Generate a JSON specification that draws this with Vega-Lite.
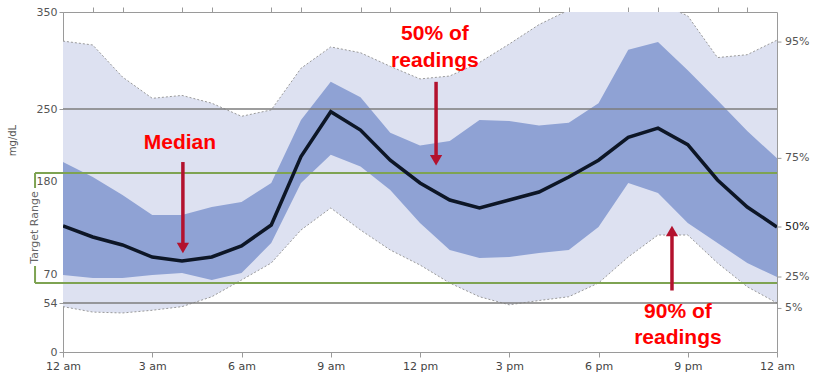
{
  "$schema": "https://vega.github.io/schema/vega-lite/v6.json",
  "width": 714,
  "height": 340,
  "autosize": {"type": "none"},
  "padding": {"left": 63, "top": 12, "right": 38, "bottom": 27},
  "background": "white",
  "config": {
    "view": {"stroke": "#9a9a9a", "strokeWidth": 1},
    "axis": {"domainColor": "#9a9a9a", "tickColor": "#9a9a9a", "grid": false}
  },
  "resolve": {"axis": {"x": "independent"}},
  "datasets": {
    "agp": [
      {"hour": 0, "p5": 50, "p25": 78, "p50": 127, "p75": 192, "p95": 320},
      {"hour": 1, "p5": 44, "p25": 75, "p50": 116, "p75": 176, "p95": 316},
      {"hour": 2, "p5": 43, "p25": 75, "p50": 108, "p75": 158, "p95": 283},
      {"hour": 3, "p5": 46, "p25": 78, "p50": 96, "p75": 138, "p95": 261},
      {"hour": 4, "p5": 50, "p25": 80, "p50": 92, "p75": 138, "p95": 264},
      {"hour": 5, "p5": 59, "p25": 73, "p50": 96, "p75": 146, "p95": 256},
      {"hour": 6, "p5": 73, "p25": 80, "p50": 107, "p75": 151, "p95": 242},
      {"hour": 7, "p5": 90, "p25": 110, "p50": 128, "p75": 170, "p95": 249},
      {"hour": 8, "p5": 123, "p25": 170, "p50": 198, "p75": 238, "p95": 292},
      {"hour": 9, "p5": 145, "p25": 200, "p50": 247, "p75": 278, "p95": 314},
      {"hour": 10, "p5": 123, "p25": 187, "p50": 227, "p75": 262, "p95": 308},
      {"hour": 11, "p5": 103, "p25": 163, "p50": 194, "p75": 224, "p95": 294},
      {"hour": 12, "p5": 88, "p25": 130, "p50": 170, "p75": 210, "p95": 281},
      {"hour": 13, "p5": 70, "p25": 103, "p50": 153, "p75": 215, "p95": 284},
      {"hour": 14, "p5": 59, "p25": 95, "p50": 145, "p75": 238, "p95": 298},
      {"hour": 15, "p5": 52, "p25": 96, "p50": 153, "p75": 237, "p95": 317},
      {"hour": 16, "p5": 56, "p25": 100, "p50": 161, "p75": 232, "p95": 337},
      {"hour": 17, "p5": 59, "p25": 103, "p50": 176, "p75": 235, "p95": 352},
      {"hour": 18, "p5": 70, "p25": 126, "p50": 194, "p75": 256, "p95": 362},
      {"hour": 19, "p5": 96, "p25": 170, "p50": 219, "p75": 311, "p95": 368},
      {"hour": 20, "p5": 118, "p25": 160, "p50": 229, "p75": 319, "p95": 360},
      {"hour": 21, "p5": 118, "p25": 130, "p50": 211, "p75": 290, "p95": 346},
      {"hour": 22, "p5": 90, "p25": 110, "p50": 173, "p75": 259, "p95": 303},
      {"hour": 23, "p5": 67, "p25": 90, "p50": 146, "p75": 226, "p95": 306},
      {"hour": 24, "p5": 54, "p25": 76, "p50": 126, "p75": 196, "p95": 321}
    ],
    "grayRefs": [{"v": 250}, {"v": 54}],
    "greenRefs": [{"v": 180}, {"v": 70}],
    "bracket": [{"a": 180, "b": 165}, {"a": 87, "b": 70}],
    "pctLabels": [
      {"label": "95%", "v": 319, "bold": 0},
      {"label": "75%", "v": 196, "bold": 0},
      {"label": "50%", "v": 126, "bold": 1},
      {"label": "25%", "v": 76, "bold": 0},
      {"label": "5%", "v": 48, "bold": 0}
    ],
    "notes": [
      {"t": "Median", "h": 3.93, "v": 213},
      {"t": "50% of", "h": 12.5, "v": 327},
      {"t": "readings", "h": 12.5, "v": 300},
      {"t": "90% of", "h": 20.67, "v": 44},
      {"t": "readings", "h": 20.67, "v": 15}
    ],
    "arrows": [
      {"h": 4.03, "a": 192, "b": 105, "shape": "triangle-down"},
      {"h": 12.54, "a": 278, "b": 194, "shape": "triangle-down"},
      {"h": 20.47, "a": 64, "b": 122, "shape": "triangle-up"}
    ]
  },
  "encoding": {
    "x": {
      "type": "quantitative",
      "scale": {"domain": [0, 24], "nice": false, "zero": false},
      "axis": null
    },
    "y": {
      "type": "quantitative",
      "scale": {"domain": [0, 54, 70, 180, 250, 350], "range": [340, 291, 271, 161, 97, 0], "nice": false, "zero": false}
    }
  },
  "layer": [
    {
      "data": {"name": "agp"},
      "mark": {"type": "area", "color": "#dde1f1", "clip": true},
      "encoding": {
        "x": {"field": "hour", "type": "quantitative",
          "axis": {
            "values": [0, 3, 6, 9, 12, 15, 18, 21, 24],
            "labelExpr": "['12 am','3 am','6 am','9 am','12 pm','3 pm','6 pm','9 pm','12 am'][round(datum.value / 3)]",
            "labelOverlap": false, "labelFlush": false, "title": null,
            "tickSize": 5, "labelPadding": 3, "labelFont": "DejaVu Sans", "labelFontSize": 11, "labelColor": "#444"
          }
        },
        "y": {"field": "p5", "type": "quantitative",
          "axis": {
            "values": [0, 54, 70, 180, 250, 350],
            "title": "mg/dL", "titleFont": "DejaVu Sans", "titleFontSize": 10, "titleFontWeight": "normal", "titleColor": "#555",
            "titleX": -51, "titleY": 128, "titleAngle": -90, "titleAlign": "center", "titleBaseline": "middle",
            "tickSize": 4, "labelPadding": 2, "labelFont": "DejaVu Sans", "labelFontSize": 11, "labelColor": "#555",
            "labelOffset": {"condition": [{"test": "datum.value == 180", "value": 8}, {"test": "datum.value == 70", "value": -9}], "value": 0}
          }
        },
        "y2": {"field": "p95"}
      }
    },
    {
      "data": {"name": "agp"},
      "mark": {"type": "line", "color": "#9a9a9a", "strokeWidth": 1, "strokeDash": [2, 2], "clip": true},
      "encoding": {
        "x": {"field": "hour", "type": "quantitative",
          "axis": {"values": [1,2,4,5,7,8,10,11,13,14,16,17,19,20,22,23], "labels": false, "domain": false, "tickSize": 5, "title": null}
        },
        "y": {"field": "p95", "type": "quantitative"}
      }
    },
    {
      "data": {"name": "agp"},
      "mark": {"type": "line", "color": "#9a9a9a", "strokeWidth": 1, "strokeDash": [2, 2], "clip": true},
      "encoding": {"x": {"field": "hour", "type": "quantitative", "axis": null}, "y": {"field": "p5", "type": "quantitative"}}
    },
    {
      "data": {"name": "agp"},
      "mark": {"type": "area", "color": "#8fa2d4", "clip": true},
      "encoding": {
        "x": {"field": "hour", "type": "quantitative", "axis": null},
        "y": {"field": "p25", "type": "quantitative"},
        "y2": {"field": "p75"}
      }
    },
    {
      "data": {"name": "grayRefs"},
      "mark": {"type": "rule", "color": "#7d7d7d", "strokeWidth": 1.5},
      "encoding": {"y": {"field": "v", "type": "quantitative"}}
    },
    {
      "data": {"name": "greenRefs"},
      "mark": {"type": "rule", "color": "#7ea352", "strokeWidth": 2},
      "encoding": {
        "x": {"datum": -0.94, "type": "quantitative", "axis": null},
        "x2": {"datum": 24},
        "y": {"field": "v", "type": "quantitative"}
      }
    },
    {
      "data": {"name": "bracket"},
      "mark": {"type": "rule", "color": "#7ea352", "strokeWidth": 2},
      "encoding": {
        "x": {"datum": -0.94, "type": "quantitative", "axis": null},
        "y": {"field": "a", "type": "quantitative"},
        "y2": {"field": "b"}
      }
    },
    {
      "data": {"values": [{"t": "Target Range", "h": -0.94, "v": 125.5}]},
      "mark": {"type": "text", "angle": 270, "font": "DejaVu Sans", "fontSize": 11, "color": "#666", "align": "center", "baseline": "middle"},
      "encoding": {
        "x": {"field": "h", "type": "quantitative", "axis": null},
        "y": {"field": "v", "type": "quantitative"},
        "text": {"field": "t"}
      }
    },
    {
      "data": {"name": "agp"},
      "mark": {"type": "line", "color": "#0d1626", "strokeWidth": 3.5, "clip": true},
      "encoding": {"x": {"field": "hour", "type": "quantitative", "axis": null}, "y": {"field": "p50", "type": "quantitative"}}
    },
    {
      "data": {"name": "pctLabels"},
      "mark": {"type": "rule", "color": "#9a9a9a", "strokeWidth": 1},
      "encoding": {
        "x": {"datum": 24, "type": "quantitative", "axis": null},
        "x2": {"datum": 24.15},
        "y": {"field": "v", "type": "quantitative"}
      }
    },
    {
      "data": {"name": "pctLabels"},
      "mark": {"type": "text", "align": "left", "baseline": "middle", "dx": 8, "font": "DejaVu Sans", "fontSize": 11},
      "encoding": {
        "x": {"datum": 24, "type": "quantitative", "axis": null},
        "y": {"field": "v", "type": "quantitative"},
        "text": {"field": "label"},
        "fontWeight": {"condition": {"test": "datum.bold == 1", "value": "bold"}, "value": "normal"},
        "color": {"condition": {"test": "datum.bold == 1", "value": "#222"}, "value": "#555"}
      }
    },
    {
      "data": {"name": "notes"},
      "mark": {"type": "text", "align": "center", "baseline": "middle", "font": "Liberation Sans", "fontSize": 21, "fontWeight": "bold", "color": "#ff0000"},
      "encoding": {
        "x": {"field": "h", "type": "quantitative", "axis": null},
        "y": {"field": "v", "type": "quantitative"},
        "text": {"field": "t"}
      }
    },
    {
      "data": {"name": "arrows"},
      "mark": {"type": "rule", "color": "#b3122e", "strokeWidth": 3.5},
      "encoding": {
        "x": {"field": "h", "type": "quantitative", "axis": null},
        "y": {"field": "a", "type": "quantitative"},
        "y2": {"field": "b"}
      }
    },
    {
      "data": {"name": "arrows"},
      "mark": {"type": "point", "filled": true, "color": "#b3122e", "size": 150, "opacity": 1},
      "encoding": {
        "x": {"field": "h", "type": "quantitative", "axis": null},
        "y": {"field": "b", "type": "quantitative"},
        "shape": {"field": "shape", "type": "nominal", "scale": null}
      }
    }
  ]
}
